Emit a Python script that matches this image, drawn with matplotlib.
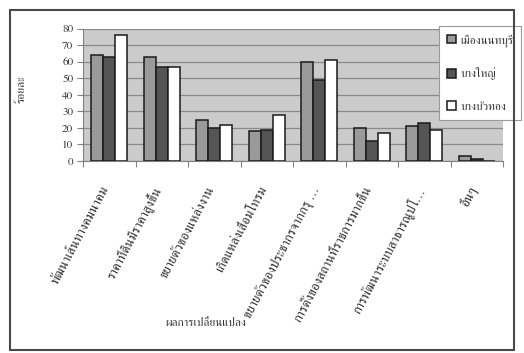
import numpy as np
import matplotlib
matplotlib.use('Agg')
import matplotlib.pyplot as plt
from matplotlib.patches import Rectangle, Patch
from matplotlib.transforms import blended_transform_factory

plt.rcParams['font.family'] = ['FreeSerif', 'DejaVu Sans']

# ผลการเปลี่ยนแปลง (ร้อยละ) แยกตามอำเภอ
categories = ['พัฒนาเส้นทางคมนาคม', 'ราคาที่ดินมีราคาสูงขึ้น', 'ขยายตัวของแหล่งงาน',
              'เกิดแหล่งเสื่อมโทรม', 'ขยายตัวของประชากรจากกรุ …',
              'การตั้งของสถานที่ราชการมากขึ้น', 'การพัฒนาระบบสาธารณูปโ…', 'อื่นๆ']
mueang = [64, 63, 25, 18, 60, 20, 21, 3]
bang_yai = [63, 57, 20, 19, 49, 12, 23, 1]
bang_bua_thong = [76, 57, 22, 28, 61, 17, 19, 0]
series_names = ['เมืองนนทบุรี', 'บางใหญ่', 'บางบัวทอง']
yticks = [0, 10, 20, 30, 40, 50, 60, 70, 80]

colors = ['#9a9a9a', '#555555', '#ffffff']

fig = plt.figure(figsize=(5.24, 3.53), dpi=100)
fig.patch.set_facecolor('white')
ax = fig.add_axes([83/524, 1 - 161/353, 420/524, 132.5/353])
ax.set_facecolor('#cbcbcb')

x = np.arange(len(categories))
w = 0.227
for k, vals in enumerate([mueang, bang_yai, bang_bua_thong]):
    ax.bar(x + (k - 1) * w, vals, w, color=colors[k], edgecolor='#1a1a1a',
           linewidth=1.1, zorder=3)

ax.set_xlim(-0.5, len(categories) - 0.5)
ax.set_ylim(0, 80)
ax.set_yticks(yticks)
ax.set_yticklabels([str(v) for v in yticks], fontsize=8, color='#333333')
ax.yaxis.grid(True, color='#8a8a8a', linewidth=0.9, zorder=0)
ax.set_axisbelow(True)
ax.tick_params(axis='y', length=4, color='#808080', pad=3)

# category boundaries as x ticks
ax.set_xticks(np.arange(len(categories) + 1) - 0.5)
ax.set_xticklabels([])
ax.tick_params(axis='x', length=4, color='#808080')
for s in ['top', 'right']:
    ax.spines[s].set_visible(False)
for s in ['left', 'bottom']:
    ax.spines[s].set_color('#808080')

trans = blended_transform_factory(ax.transData, ax.transAxes)
for i, lab in enumerate(categories):
    ax.text(i - 0.05, -0.2, lab, transform=trans, rotation=62,
            rotation_mode='anchor', ha='right', va='center', fontsize=9.5,
            color='#333333')

fig.text(22/524, 1 - 89/353, 'ร้อยละ', rotation=90, ha='center', va='center',
         fontsize=8.5, color='#333333')
fig.text(206/524, 1 - 323/353, 'ผลการเปลี่ยนแปลง', ha='center', va='center',
         fontsize=8.5, color='#333333')

handles = [Patch(facecolor=c, edgecolor='#1a1a1a', linewidth=1.1) for c in colors]
leg = ax.legend(handles, series_names, loc='upper left',
                bbox_to_anchor=(439/524, 1 - 26/353), bbox_transform=fig.transFigure,
                borderaxespad=0, fontsize=8.5, handlelength=0.75, handleheight=0.75,
                handletextpad=0.4, labelspacing=1.75, borderpad=0.65,
                fancybox=False, framealpha=1)
leg.get_frame().set_edgecolor('#9a9a9a')
leg.get_frame().set_linewidth(0.8)
for t in leg.get_texts():
    t.set_color('#333333')

# outer chart border
fig.add_artist(Rectangle((10/524, 1 - 350/353), 504/524, 340/353,
                         transform=fig.transFigure, fill=False,
                         edgecolor='#4a4a4a', linewidth=1.5))

fig.savefig('out.png', dpi=100)
